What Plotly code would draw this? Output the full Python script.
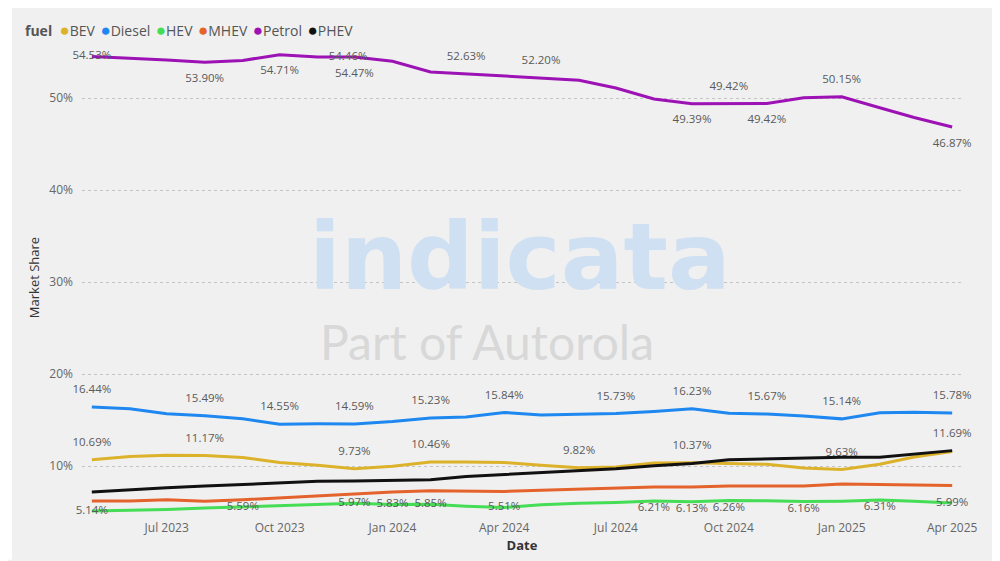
import plotly.graph_objects as go

# ---------------- data ----------------
months = ["2023-05-01", "2023-06-01", "2023-07-01", "2023-08-01", "2023-09-01", "2023-10-01",
          "2023-11-01", "2023-12-01", "2024-01-01", "2024-02-01", "2024-03-01", "2024-04-01",
          "2024-05-01", "2024-06-01", "2024-07-01", "2024-08-01", "2024-09-01", "2024-10-01",
          "2024-11-01", "2024-12-01", "2025-01-01", "2025-02-01", "2025-03-01", "2025-04-01"]

bev = [10.69, 11.05, 11.20, 11.17, 10.95, 10.40, 10.10, 9.73, 10.00, 10.46, 10.45, 10.40,
       10.10, 9.82, 9.90, 10.35, 10.37, 10.30, 10.20, 9.80, 9.63, 10.20, 11.00, 11.60]
diesel = [16.44, 16.25, 15.70, 15.49, 15.15, 14.55, 14.60, 14.59, 14.85, 15.23, 15.35, 15.84,
          15.55, 15.62, 15.73, 15.95, 16.23, 15.75, 15.67, 15.45, 15.14, 15.80, 15.85, 15.78]
hev = [5.14, 5.20, 5.30, 5.45, 5.59, 5.70, 5.80, 5.97, 5.83, 5.85, 5.65, 5.51,
       5.80, 5.97, 6.05, 6.21, 6.13, 6.26, 6.25, 6.16, 6.20, 6.31, 6.20, 5.99]
mhev = [6.21, 6.21, 6.35, 6.20, 6.35, 6.57, 6.82, 7.00, 7.19, 7.33, 7.33, 7.26,
        7.37, 7.47, 7.62, 7.73, 7.73, 7.84, 7.84, 7.84, 8.06, 8.00, 7.90, 7.90]
petrol = [54.53, 54.35, 54.15, 53.90, 54.10, 54.71, 54.46, 54.47, 54.00, 52.85, 52.63, 52.35,
          52.20, 51.95, 51.10, 49.90, 49.39, 49.42, 49.42, 50.05, 50.15, 48.95, 47.90, 46.87]
phev = [7.19, 7.45, 7.65, 7.84, 8.00, 8.17, 8.35, 8.40, 8.45, 8.52, 8.88, 9.10,
        9.30, 9.47, 9.72, 10.05, 10.30, 10.70, 10.80, 10.95, 10.98, 10.98, 11.34, 11.69]

fuels = ["BEV", "Diesel", "HEV", "MHEV", "Petrol", "PHEV"]
y_ticks = [10, 20, 30, 40, 50]
y_tick_labels = ["10%", "20%", "30%", "40%", "50%"]

# ---------------- styling ----------------
colors = {"BEV": "#DDB22B", "Diesel": "#1E88F0", "HEV": "#45DD55",
          "MHEV": "#E4632C", "Petrol": "#9C12B4", "PHEV": "#111111"}
values = {"BEV": bev, "Diesel": diesel, "HEV": hev, "MHEV": mhev, "Petrol": petrol, "PHEV": phev}
# invisible marker size controls how far data labels sit from the line
label_gap = {"BEV": 16, "Diesel": 16, "HEV": 1, "MHEV": 6, "Petrol": 16, "PHEV": 16}

TC, BC, MC, MR = "top center", "bottom center", "middle center", "middle right"
label_pos = {
    "BEV": {0: TC, 3: TC, 7: TC, 9: TC, 13: TC, 16: TC, 20: TC},
    "Diesel": {0: TC, 3: TC, 5: TC, 7: TC, 9: TC, 11: TC, 14: TC, 16: TC, 18: TC, 20: TC, 23: TC},
    "HEV": {0: MC, 4: MC, 7: MC, 8: MC, 9: MC, 11: MC, 15: BC, 16: BC, 17: BC, 19: BC, 21: BC, 23: MC},
    "MHEV": {},
    "Petrol": {0: MC, 3: BC, 5: BC, 6: MR, 7: BC, 10: TC, 12: TC, 16: BC, 17: TC, 18: BC, 20: TC, 23: BC},
    "PHEV": {23: TC},
}

fig = go.Figure()
for f in fuels:
    vals = values[f]
    pos = label_pos[f]
    texts = [f"{v:.2f}%" if i in pos else "" for i, v in enumerate(vals)]
    tpos = [pos.get(i, TC) for i in range(len(vals))]
    fig.add_trace(go.Scatter(
        x=months, y=vals, name=f, mode="lines+markers+text",
        line=dict(color=colors[f], width=3),
        marker=dict(size=label_gap[f], opacity=0, color=colors[f]),
        text=texts, textposition=tpos,
        textfont=dict(size=11.5, color="#5a5a5a", family="Open Sans, sans-serif"),
        cliponaxis=False, showlegend=False,
    ))

# page body adds an 8px offset; work in window pixel coordinates
OFF = 8
PL, PR, PT, PB = 82, 962, 42, 515          # plot area in window pixels
W, H = 1000 - OFF, 561 - OFF
pw, ph = PR - PL, PB - PT


def px_x(px):
    return (px - PL) / pw


def px_y(py):
    return (PB - py) / ph


gap = "<span style='font-size:21px'>&nbsp;</span>"
legend_html = "<b>fuel</b>&nbsp;&nbsp;" + gap.join(
    f"<span style='color:{colors[f]};font-size:17px'>●</span>{f}" for f in fuels)

fig.update_layout(
    width=W, height=H,
    margin=dict(l=PL - OFF, r=W - (PR - OFF), t=PT - OFF, b=H - (PB - OFF)),
    paper_bgcolor="#f0f0f0",
    plot_bgcolor="rgba(0,0,0,0)",
    font=dict(family="Open Sans, sans-serif", color="#555555"),
    showlegend=False,
    xaxis=dict(
        type="date", range=["2023-04-23", "2025-04-09"],
        tick0="2023-07-01", dtick="M3", tickformat="%b %Y",
        showgrid=False, zeroline=False, showline=False,
        ticks="outside", ticklen=4, tickcolor="rgba(0,0,0,0)",
        tickfont=dict(size=12, color="#666666"),
        title=dict(text="<b>Date</b>", font=dict(size=13, color="#333333"), standoff=3),
    ),
    yaxis=dict(
        range=[4.91, 56.1], tickvals=y_ticks, ticktext=y_tick_labels,
        showgrid=True, gridcolor="#c4c4c4", griddash="dot", gridwidth=1,
        zeroline=False, showline=False, ticklabelstandoff=8,
        tickfont=dict(size=12, color="#666666"),
        title=dict(text="Market Share", font=dict(size=13, color="#333333"), standoff=6),
    ),
    shapes=[dict(type="rect", xref="paper", yref="paper", layer="below",
                 x0=px_x(OFF - 1), x1=px_x(12), y0=px_y(562), y1=px_y(OFF - 1),
                 fillcolor="#ffffff", line=dict(width=0))],
    annotations=[
        dict(text="indicata", xref="paper", yref="paper", x=px_x(520), y=px_y(258),
             xanchor="center", yanchor="middle", showarrow=False,
             font=dict(family="DejaVu Sans", size=93, color="#cfe0f2", weight="bold")),
        dict(text="Part of Autorola", xref="paper", yref="paper", x=px_x(487), y=px_y(343),
             xanchor="center", yanchor="middle", showarrow=False,
             font=dict(family="Lato", size=48, color="#d8d8d8")),
        dict(text=legend_html, xref="paper", yref="paper", x=px_x(23), y=px_y(28),
             xanchor="left", yanchor="middle", showarrow=False, align="left",
             font=dict(size=14, color="#555555", family="Open Sans, sans-serif")),
    ],
)

fig.write_html("out.html")
